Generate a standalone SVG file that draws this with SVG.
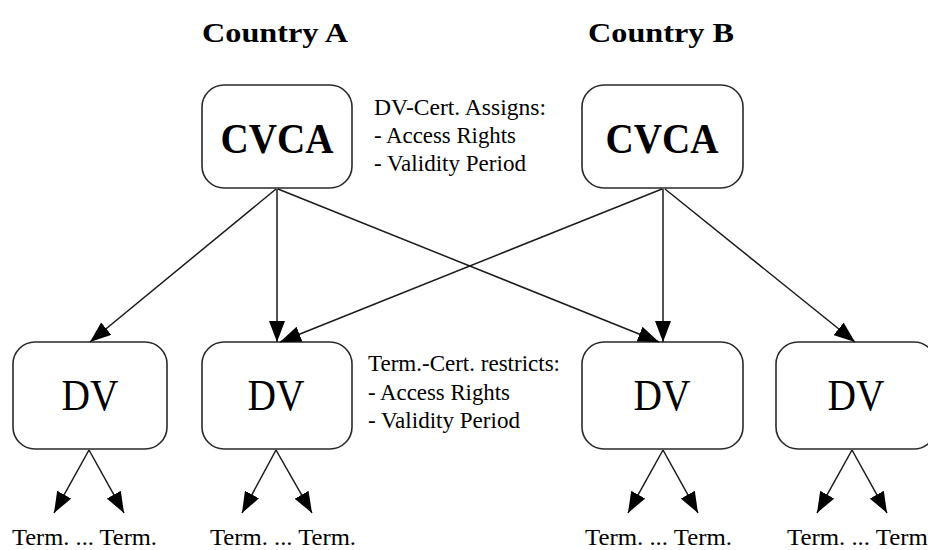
<svg xmlns="http://www.w3.org/2000/svg" width="928" height="550" viewBox="0 0 928 550">
  <style>
    .box { fill: #ffffff; stroke: #2a2a2a; stroke-width: 1.6; }
    .edge { fill: none; stroke: #1a1a1a; stroke-width: 1.5; marker-end: url(#arrow); }
    text { font-family: 'Liberation Serif', Tinos, 'DejaVu Serif', serif; fill: #000; }
    .title { font-weight: bold; font-size: 27px; }
    .ca { font-weight: bold; font-size: 43px; text-anchor: middle; }
    .dv { font-size: 44px; text-anchor: middle; }
    .note { font-size: 23px; }
    .term { font-size: 24px; }
  </style>
  <defs>
    <marker id="arrow" markerUnits="userSpaceOnUse" markerWidth="21" markerHeight="16" refX="21" refY="8" orient="auto">
      <path d="M0,0 L21,8 L0,16 z" fill="#000"/>
    </marker>
  </defs>

  <!-- country headings -->
  <text class="title" x="202" y="42" textLength="146" lengthAdjust="spacingAndGlyphs">Country A</text>
  <text class="title" x="588" y="42" textLength="146" lengthAdjust="spacingAndGlyphs">Country B</text>

  <!-- root certificate authorities -->
  <g id="cvca-a">
    <rect class="box" x="202" y="85" width="150" height="103" rx="22" ry="22"/>
    <text class="ca" x="277" y="153" textLength="113" lengthAdjust="spacingAndGlyphs">CVCA</text>
  </g>
  <g id="cvca-b">
    <rect class="box" x="582" y="85" width="161" height="103" rx="22" ry="22"/>
    <text class="ca" x="662" y="153" textLength="113" lengthAdjust="spacingAndGlyphs">CVCA</text>
  </g>

  <g id="note-dv-cert">
    <text class="note" x="374" y="115" textLength="172" lengthAdjust="spacingAndGlyphs">DV-Cert. Assigns:</text>
    <text class="note" x="374" y="143" textLength="142" lengthAdjust="spacingAndGlyphs">- Access Rights</text>
    <text class="note" x="374" y="171" textLength="152" lengthAdjust="spacingAndGlyphs">- Validity Period</text>
  </g>

  <!-- document verifiers -->
  <g id="dv-1">
    <rect class="box" x="13" y="342" width="154" height="107" rx="22" ry="22"/>
    <text class="dv" x="90" y="410" textLength="57" lengthAdjust="spacingAndGlyphs">DV</text>
  </g>
  <g id="dv-2">
    <rect class="box" x="202" y="342" width="150" height="107" rx="22" ry="22"/>
    <text class="dv" x="276" y="410" textLength="57" lengthAdjust="spacingAndGlyphs">DV</text>
  </g>
  <g id="dv-3">
    <rect class="box" x="582" y="342" width="161" height="107" rx="22" ry="22"/>
    <text class="dv" x="662" y="410" textLength="57" lengthAdjust="spacingAndGlyphs">DV</text>
  </g>
  <g id="dv-4">
    <rect class="box" x="776" y="342" width="160" height="107" rx="22" ry="22"/>
    <text class="dv" x="856" y="410" textLength="57" lengthAdjust="spacingAndGlyphs">DV</text>
  </g>

  <g id="note-term-cert">
    <text class="note" x="368" y="371" textLength="192" lengthAdjust="spacingAndGlyphs">Term.-Cert. restricts:</text>
    <text class="note" x="368" y="400" textLength="142" lengthAdjust="spacingAndGlyphs">- Access Rights</text>
    <text class="note" x="368" y="428" textLength="152" lengthAdjust="spacingAndGlyphs">- Validity Period</text>
  </g>

  <!-- terminals -->
  <g id="terms-1"><text class="term" x="12" y="545" textLength="145" lengthAdjust="spacingAndGlyphs">Term. ... Term.</text></g>
  <g id="terms-2"><text class="term" x="210" y="545" textLength="146" lengthAdjust="spacingAndGlyphs">Term. ... Term.</text></g>
  <g id="terms-3"><text class="term" x="585" y="545" textLength="147" lengthAdjust="spacingAndGlyphs">Term. ... Term.</text></g>
  <g id="terms-4"><text class="term" x="787" y="545" textLength="147" lengthAdjust="spacingAndGlyphs">Term. ... Term.</text></g>

  <!-- connectors -->
  <g id="connectors">
    <line class="edge" x1="276" y1="189" x2="90" y2="342"/>
    <line class="edge" x1="277" y1="189" x2="277" y2="342"/>
    <line class="edge" x1="278" y1="189" x2="659" y2="342"/>
    <line class="edge" x1="662" y1="189" x2="280" y2="342"/>
    <line class="edge" x1="663" y1="189" x2="663" y2="342"/>
    <line class="edge" x1="665" y1="189" x2="855" y2="342"/>

    <line class="edge" x1="89" y1="450" x2="54" y2="513"/>
    <line class="edge" x1="89" y1="450" x2="124" y2="513"/>
    <line class="edge" x1="276" y1="450" x2="242" y2="513"/>
    <line class="edge" x1="276" y1="450" x2="312" y2="513"/>
    <line class="edge" x1="663" y1="450" x2="628" y2="513"/>
    <line class="edge" x1="663" y1="450" x2="698" y2="513"/>
    <line class="edge" x1="852" y1="450" x2="817" y2="513"/>
    <line class="edge" x1="852" y1="450" x2="887" y2="513"/>
  </g>
</svg>
